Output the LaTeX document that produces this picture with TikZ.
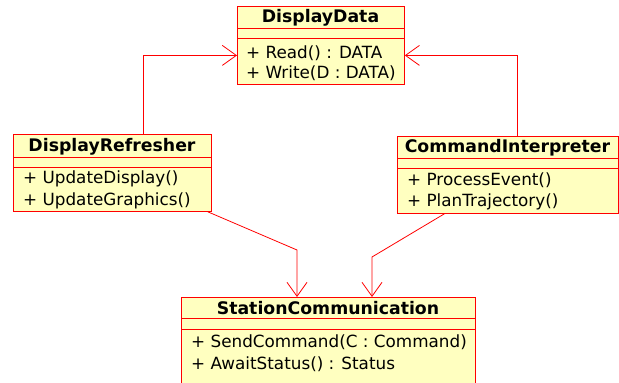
\documentclass[tikz,border=0pt]{standalone}
\usepackage{fontspec}
\setmainfont{DejaVu Sans}
\usetikzlibrary{arrows.meta}
\definecolor{umlyellow}{RGB}{255,255,192}
\begin{document}
\begin{tikzpicture}[x=1pt,y=-1pt,
  cls/.style={draw=red, fill=umlyellow, line width=0.8pt, inner sep=0, anchor=north west},
  sep/.style={draw=red, line width=0.8pt},
  ttl/.style={font=\fontsize{17.3}{19}\selectfont\bfseries, inner sep=0},
  mth/.style={font=\fontsize{16.8}{19}\selectfont, inner sep=0, anchor=west},
  assoc/.style={draw=red, line width=0.8pt, -{Straight Barb[length=14pt,width=20pt,line width=0.8pt]}}]
\useasboundingbox (0,0) rectangle (619,383);
\clip (0,0) rectangle (619,383);

% DisplayData
\node[cls, minimum width=167, minimum height=78] (dd) at (237,6) {};
\draw[sep] (dd.west |- 0,28) -- (dd.east |- 0,28);
\draw[sep] (dd.west |- 0,38) -- (dd.east |- 0,38);
\node[ttl] (ddt) at (320.5,17.5) {DisplayData};
\node[mth] (ddm1) at (246,53) {+ Read() : DATA};
\node[mth] (ddm2) at (246,73) {+ Write(D : DATA)};

% DisplayRefresher
\node[cls, minimum width=198, minimum height=77] (dr) at (13,134) {};
\draw[sep] (dr.west |- 0,157) -- (dr.east |- 0,157);
\draw[sep] (dr.west |- 0,167) -- (dr.east |- 0,167);
\node[ttl] (drt) at (112,146.5) {DisplayRefresher};
\node[mth] (drm1) at (23,179) {+ UpdateDisplay()};
\node[mth] (drm2) at (23,201) {+ UpdateGraphics()};

% CommandInterpreter
\node[cls, minimum width=221, minimum height=77] (ci) at (397,136) {};
\draw[sep] (ci.west |- 0,158) -- (ci.east |- 0,158);
\draw[sep] (ci.west |- 0,168) -- (ci.east |- 0,168);
\node[ttl] (cit) at (507.5,148) {CommandInterpreter};
\node[mth] (cim1) at (407,180) {+ ProcessEvent()};
\node[mth] (cim2) at (407,202) {+ PlanTrajectory()};

% StationCommunication
\node[cls, minimum width=294, minimum height=100] (sc) at (181,297) {};
\draw[sep] (sc.west |- 0,318) -- (sc.east |- 0,318);
\draw[sep] (sc.west |- 0,329) -- (sc.east |- 0,329);
\node[ttl] (sct) at (328,308.5) {StationCommunication};
\node[mth] (scm1) at (191,342) {+ SendCommand(C : Command)};
\node[mth] (scm2) at (191,364) {+ AwaitStatus() : Status};

% connectors
\draw[assoc] ([xshift=31]dr.north) |- ([yshift=-10]dd.west);
\draw[assoc] ([xshift=9.5]ci.north) |- ([yshift=-10]dd.east);
\draw[assoc] ([xshift=-4]dr.south east) -- (297,250) -- (sc.north -| 297,0);
\draw[assoc] ([xshift=-63.5]ci.south) -- (372,257) -- (sc.north -| 372,0);
\end{tikzpicture}
\end{document}
